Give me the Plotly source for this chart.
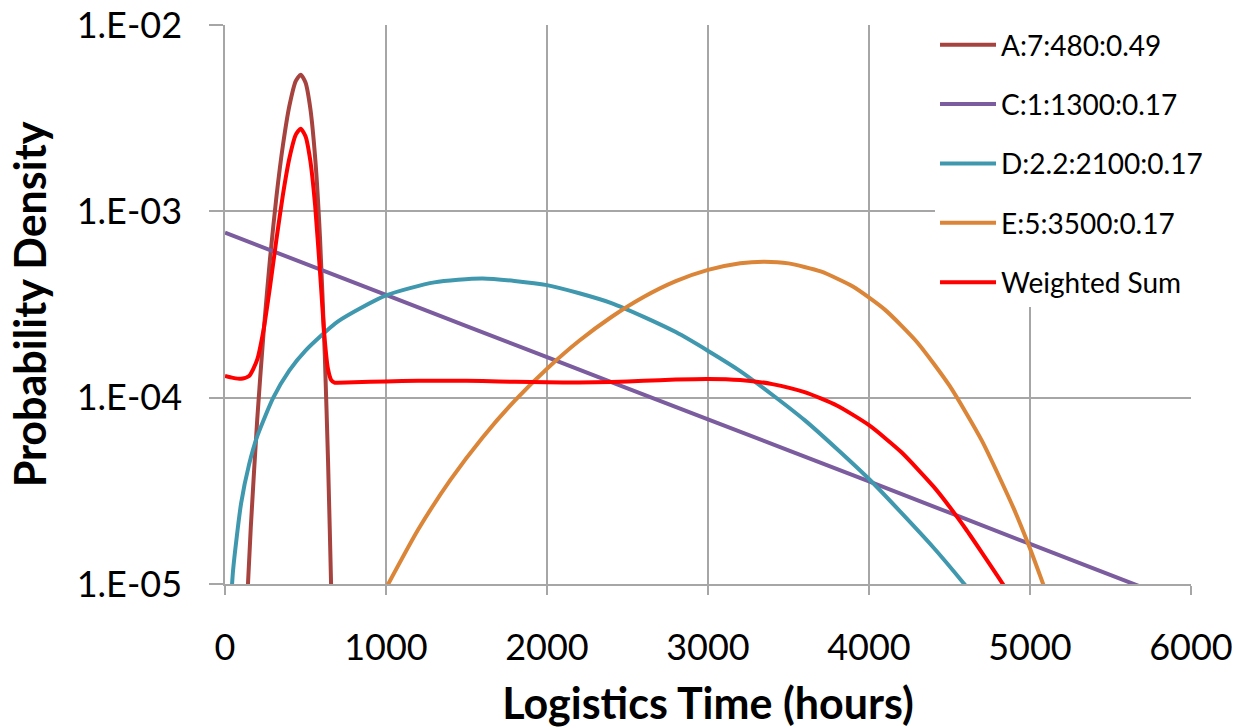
import plotly.graph_objects as go

# ---- data (hours, probability density) ----
a_hours = [140, 160, 200, 240, 280, 320, 360, 400, 440, 470, 500, 530, 560, 590, 620, 640, 660, 680]
a_dens = [8.98e-6, 2.00e-5, 7.61e-5, 2.26e-4, 5.62e-4, 1.21e-3, 2.27e-3, 3.69e-3, 5.02e-3, 5.42e-3,
          4.92e-3, 3.57e-3, 1.94e-3, 7.25e-4, 1.68e-4, 4.57e-5, 9.07e-6, 1.25e-6]

c_hours = [0, 1000, 2000, 3000, 4000, 5000, 6000]
c_dens = [7.69e-4, 3.56e-4, 1.65e-4, 7.65e-5, 3.55e-5, 1.64e-5, 7.61e-6]

d_hours = [25, 50, 100, 150, 200, 300, 400, 500, 700, 1000, 1300, 1600, 2000, 2400, 2800,
           3200, 3600, 4000, 4400, 4600, 4800]
d_dens = [5.14e-6, 1.18e-5, 2.71e-5, 4.40e-5, 6.20e-5, 1.00e-4, 1.40e-4, 1.79e-4, 2.56e-4,
          3.54e-4, 4.16e-4, 4.36e-4, 4.02e-4, 3.22e-4, 2.25e-4, 1.39e-4, 7.58e-5, 3.66e-5,
          1.57e-5, 9.80e-6, 5.95e-6]

e_hours = [1000, 1200, 1400, 1600, 1800, 2000, 2200, 2400, 2600, 2800, 3000, 3200, 3350, 3500,
           3700, 3900, 4100, 4300, 4500, 4700, 4900, 5000, 5100]
e_dens = [9.50e-6, 1.96e-5, 3.62e-5, 6.12e-5, 9.64e-5, 1.43e-4, 2.02e-4, 2.71e-4, 3.47e-4,
          4.22e-4, 4.85e-4, 5.27e-4, 5.37e-4, 5.26e-4, 4.76e-4, 3.95e-4, 2.96e-4, 1.98e-4,
          1.16e-4, 5.90e-5, 2.53e-5, 1.55e-5, 9.04e-6]

w_hours = [0, 50, 100, 150, 200, 240, 280, 320, 360, 400, 440, 470, 500, 530, 560, 590, 620,
           640, 660, 680, 700, 800, 1000, 1200, 1400, 1600, 1800, 2000, 2200, 2400, 2600, 2800,
           3000, 3200, 3400, 3600, 3800, 4000, 4200, 4400, 4500, 4600, 4700, 4800, 4900]
w_dens = [1.308e-4, 1.278e-4, 1.263e-4, 1.307e-4, 1.600e-4, 2.326e-4, 3.963e-4, 7.123e-4,
          1.233e-3, 1.930e-3, 2.581e-3, 2.777e-3, 2.532e-3, 1.870e-3, 1.070e-3, 4.750e-4,
          2.020e-4, 1.421e-4, 1.242e-4, 1.204e-4, 1.203e-4, 1.210e-4, 1.223e-4, 1.233e-4,
          1.234e-4, 1.228e-4, 1.217e-4, 1.209e-4, 1.206e-4, 1.214e-4, 1.232e-4, 1.251e-4,
          1.261e-4, 1.244e-4, 1.183e-4, 1.070e-4, 9.08e-5, 7.12e-5, 5.11e-5, 3.34e-5,
          2.60e-5, 1.98e-5, 1.48e-5, 1.10e-5, 8.10e-6]

series_names = ["A:7:480:0.49", "C:1:1300:0.17", "D:2.2:2100:0.17", "E:5:3500:0.17", "Weighted Sum"]
series_colors = ["#A6433F", "#7B5C9E", "#3F98AE", "#DB8539", "#FF0000"]

x_ticks = [0, 1000, 2000, 3000, 4000, 5000, 6000]
y_ticks = [1e-5, 1e-4, 1e-3, 1e-2]
y_tick_labels = ["1.E-05", "1.E-04", "1.E-03", "1.E-02"]

FONT = "Lato, Carlito, 'Open Sans', sans-serif"
GRID = "#A6A6A6"

fig = go.Figure()
all_x = [a_hours, c_hours, d_hours, e_hours, w_hours]
all_y = [a_dens, c_dens, d_dens, e_dens, w_dens]
for i, (xs, ys) in enumerate(zip(all_x, all_y)):
    fig.add_trace(go.Scatter(
        x=xs, y=ys, mode="lines", name=series_names[i],
        line=dict(color=series_colors[i], width=4, shape="spline", smoothing=0.6),
        legendgroup=f"g{i}",
    ))

fig.update_layout(
    width=1237, height=728,
    margin=dict(l=225, r=46, t=25, b=144, autoexpand=False),
    paper_bgcolor="white", plot_bgcolor="white",
    font=dict(family=FONT, color="#000000"),
    showlegend=True,
    legend=dict(
        x=0.735, xanchor="left", y=1.009, yanchor="top",
        bgcolor="white", borderwidth=0,
        font=dict(size=28, family=FONT, color="#000000"),
        tracegroupgap=20, traceorder="grouped", itemwidth=56,
    ),
)

fig.update_xaxes(
    range=[0, 6000], tickvals=x_ticks, ticktext=[str(v) for v in x_ticks],
    showgrid=True, gridcolor=GRID, gridwidth=1.5,
    showline=True, linecolor=GRID, linewidth=1.5,
    ticks="outside", ticklen=9, tickcolor=GRID, tickwidth=1.5,
    zeroline=False, automargin=False, ticklabeloverflow="allow",
    tickfont=dict(size=36, family=FONT, color="#000000"),
    ticklabelstandoff=22,
    title=dict(text="<b>Logistics Time (hours)</b>", font=dict(size=43, family=FONT, color="#000000"),
               standoff=33),
)
fig.update_yaxes(
    type="log", range=[-5, -1.9995], tickvals=y_ticks, ticktext=y_tick_labels,
    showgrid=True, gridcolor=GRID, gridwidth=1.5,
    showline=True, linecolor=GRID, linewidth=1.5,
    ticks="outside", ticklen=14, tickcolor=GRID, tickwidth=1.5,
    zeroline=False, automargin=False, ticklabeloverflow="allow",
    tickfont=dict(size=36, family=FONT, color="#000000"),
    ticklabelstandoff=20,
    title=dict(text="<b>Probability Density</b>", font=dict(size=43, family=FONT, color="#000000"),
               standoff=17),
)

# remove the default page margin so the figure fills the 1237x728 window exactly
fig.write_html("out.html", config={"displayModeBar": False},
               post_script="document.body.style.margin='0';")
